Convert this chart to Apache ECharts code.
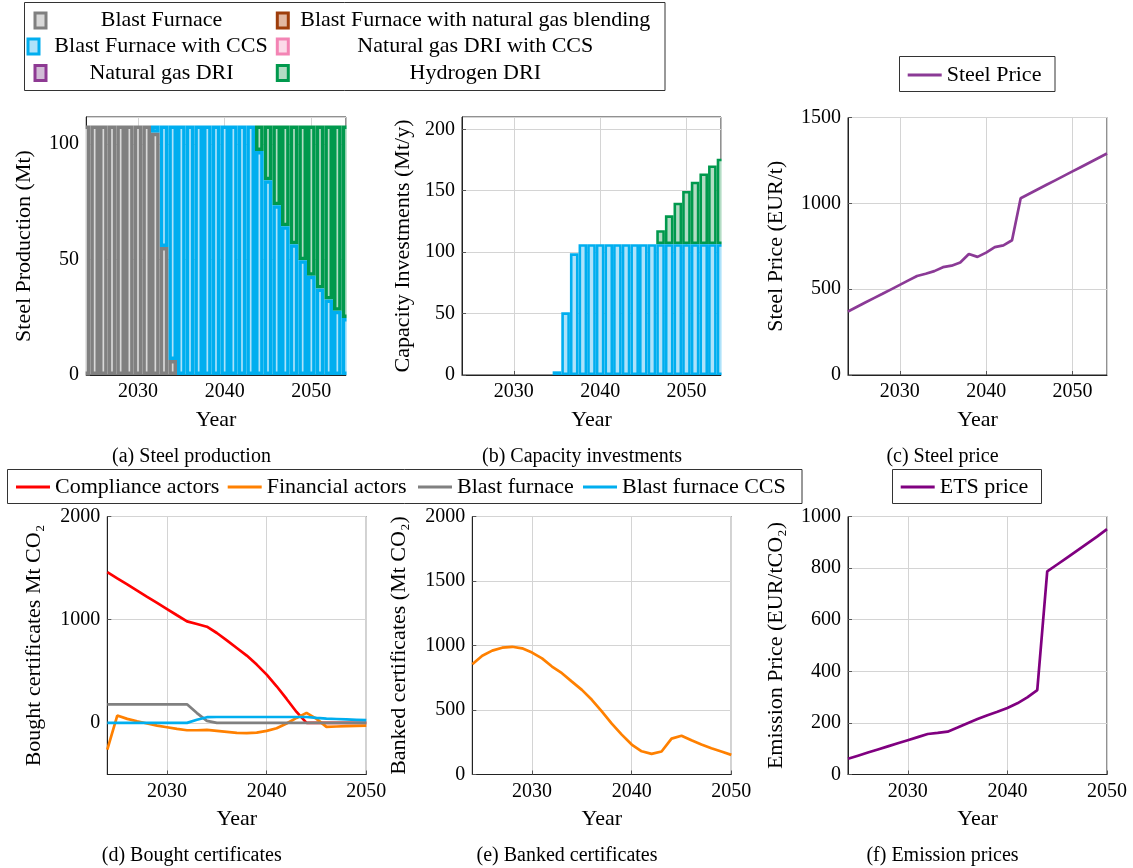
<!DOCTYPE html>
<html><head><meta charset="utf-8">
<script src="https://cdn.jsdelivr.net/npm/echarts@6/dist/echarts.min.js"></script>
<style>html,body{margin:0;padding:0;background:#fff}#c{width:1133px;height:868px}</style>
</head><body><div id="c"></div><script>
// ---------- data ----------
const years = [2024,2025,2026,2027,2028,2029,2030,2031,2032,2033,2034,2035,2036,2037,2038,2039,2040,2041,2042,2043,2044,2045,2046,2047,2048,2049,2050,2051,2052,2053,2054];
const yearsCert = [2024,2025,2026,2027,2028,2029,2030,2031,2032,2033,2034,2035,2036,2037,2038,2039,2040,2041,2042,2043,2044,2045,2046,2047,2048,2049,2050];

const techNames = ['Blast Furnace','Blast Furnace with natural gas blending','Blast Furnace with CCS','Natural gas DRI with CCS','Natural gas DRI','Hydrogen DRI'];

// (a) steel production, Mt
const bfProd      = [108,108,108,108,108,108,108,108,104.9,55.4,6.5,0,0,0,0,0,0,0,0,0,0,0,0,0,0,0,0,0,0,0,0];
const bfngProd    = [0,0,0,0,0,0,0,0,0,0,0,0,0,0,0,0,0,0,0,0,0,0,0,0,0,0,0,0,0,0,0];
const bfccsProd   = [0,0,0,0,0,0,0,0,3.1,52.6,101.5,108,108,108,108,108,108,108,108,108,97,84.3,73.5,64.4,56.6,49.7,43,37.4,32.7,27.8,24.7];
const ngdriccsProd= [0,0,0,0,0,0,0,0,0,0,0,0,0,0,0,0,0,0,0,0,0,0,0,0,0,0,0,0,0,0,0];
const ngdriProd   = [0,0,0,0,0,0,0,0,0,0,0,0,0,0,0,0,0,0,0,0,0,0,0,0,0,0,0,0,0,0,0];
const h2Prod      = [0,0,0,0,0,0,0,0,0,0,0,0,0,0,0,0,0,0,0,0,11,23.7,34.5,43.6,51.4,58.3,65,70.6,75.3,80.2,83.3];

// (b) capacity investments, Mt/y
const bfccsInv = [0,0,0,0,0,0,0,0,0,0,0,3,51,99,106.5,106.5,106.5,106.5,106.5,106.5,106.5,106.5,106.5,106.5,106.5,106.5,106.5,106.5,106.5,106.5,106.5];
const h2Inv    = [0,0,0,0,0,0,0,0,0,0,0,0,0,0,0,0,0,0,0,0,0,0,0,11.4,23.5,33.8,43.3,50.8,57.6,64.1,69.5];

// (c) steel price, EUR/t
const steelPrice = [370,396,422,448,473,499,525,551,577,590,605,628,637,655,705,688,713,745,755,785,1030,1056,1082,1108,1134,1160,1186,1212,1238,1264,1290];

// (d) bought certificates, Mt CO2
const compliance = [1461,1401,1342,1282,1222,1163,1103,1043,984,958,932,871,800,726,652,565,468,355,232,106,0,0,0,0,0,0,0];
const financial  = [-258,71,39,16,-6,-26,-42,-58,-71,-71,-68,-77,-87,-97,-100,-94,-77,-52,-6,48,97,39,-39,-35,-32,-29,-26];
const bfBought   = [180,180,180,180,180,180,180,180,180,95,20,0,0,0,0,0,0,0,0,0,0,0,0,0,0,0,0];
const bfccsBought= [0,0,0,0,0,0,0,0,0,30,55,57,57,57,57,57,57,57,57,57,57,48,42,38,34,30,26];

// (e) banked certificates, Mt CO2
const banked = [855,920,960,983,990,978,945,900,837,785,720,656,579,489,394,309,232,180,160,178,278,301,265,232,203,178,152];

// (f) ETS price, EUR/tCO2
const etsPrice = [61,73,85,97,109,121,133,145,157,161,166,182,199,215,230,243,258,276,299,327,787,814,841,868,895,922,951];

// ---------- styling ----------
const FONT = "Liberation Serif";
const techStyle = {
  'Blast Furnace': {border:'#808080', fill:'#d9d9d9'},
  'Blast Furnace with natural gas blending': {border:'#9e3d0b', fill:'#e2b8a3'},
  'Blast Furnace with CCS': {border:'#00aeef', fill:'#aee2fa'},
  'Natural gas DRI with CCS': {border:'#f384b4', fill:'#fcdbe9'},
  'Natural gas DRI': {border:'#8e3a93', fill:'#d1bcd6'},
  'Hydrogen DRI': {border:'#00994d', fill:'#b3dcc4'}
};

const GW = 259;
const gridDefs = [
  {left:86,    top:117,   width:260, height:258},
  {left:462,   top:117,   width:GW,  height:258},
  {left:848,   top:117.5, width:GW,  height:257.5},
  {left:107.3, top:516.5, width:GW,  height:258},
  {left:472.3, top:516.5, width:GW,  height:258},
  {left:848,   top:516.5, width:GW,  height:258}
].map(g => Object.assign({show:true, borderColor:'#222', borderWidth:1, backgroundColor:'transparent'}, g));

const fmt = v => String(v);
const decade = (i, v) => Number(v) % 10 === 0;
const nameStyle = {fontFamily:FONT, fontSize:22, color:'#000'};
const tickLab = {fontFamily:FONT, fontSize:20, color:'#000', margin:7};
const gridLine = {show:true, lineStyle:{color:'#d4d4d4', width:1}};
const axLine = {show:true, onZero:false, lineStyle:{color:'#222', width:1}};
const axTick = {show:true, inside:true, length:4, lineStyle:{color:'#555'}};

function xCat(i){
  return {
    gridIndex:i, type:'category', data:years.map(String), boundaryGap:false,
    name:'Year', nameLocation:'middle', nameGap:34, nameTextStyle:nameStyle,
    axisLine:axLine,
    axisTick:Object.assign({}, axTick, {interval:decade}),
    axisLabel:Object.assign({}, tickLab, {interval:decade}),
    splitLine:Object.assign({}, gridLine, {interval:decade})
  };
}
function xVal(i, max){
  return {
    gridIndex:i, type:'value', min:2024, max:max, minInterval:10, maxInterval:10,
    name:'Year', nameLocation:'middle', nameGap:34, nameTextStyle:nameStyle,
    axisLine:axLine, axisTick:axTick,
    axisLabel:Object.assign({}, tickLab, {formatter:fmt, showMinLabel:false, showMaxLabel: max===2050}),
    splitLine:gridLine
  };
}
function yAx(i, name, min, max, interval, gap, labExtra, extra){
  const a = {
    gridIndex:i, type:'value', min:min, max:max,
    name:name, nameLocation:'middle', nameGap:gap, nameTextStyle:nameStyle,
    axisLine:axLine, axisTick:axTick,
    axisLabel:Object.assign({}, tickLab, {formatter:fmt, padding:[4,0,0,0]}, labExtra || {}),
    splitLine:gridLine
  };
  if (interval) a.interval = interval;
  return Object.assign(a, extra || {});
}

const pairs = (xs, vs) => xs.map((x, i) => [x, vs[i]]);
const barVals = vs => vs.map(v => v > 0 ? v : '-');

function barSeries(name, vals, gi, stack, bw, z){
  const s = techStyle[name];
  return {
    type:'bar', name:name, xAxisIndex:gi, yAxisIndex:gi, stack:stack,
    barWidth:'100%', z:z, clip:true,
    itemStyle:{color:s.fill, borderColor:s.border, borderWidth:bw},
    emphasis:{disabled:true},
    data: barVals(vals)
  };
}
function lineSeries(name, xs, vals, gi, color){
  return {
    type:'line', name:name, xAxisIndex:gi, yAxisIndex:gi, color:color,
    showSymbol:false, symbol:'none', clip:true, z:5,
    lineStyle:{color:color, width:2.7}, itemStyle:{color:color},
    emphasis:{disabled:true},
    data: pairs(xs, vals)
  };
}

const prodSets = [bfProd, bfngProd, bfccsProd, ngdriccsProd, ngdriProd, h2Prod];
const series = [];
techNames.forEach((n, k) => series.push(barSeries(n, prodSets[k], 0, 'prod', 3.5, 9 - k)));
series.push(barSeries('Blast Furnace with CCS', bfccsInv, 1, 'inv', 2.6, 8));
series.push(barSeries('Hydrogen DRI', h2Inv, 1, 'inv', 2.6, 7));
series.push(lineSeries('Steel Price', years, steelPrice, 2, '#8b3a96'));
series.push(lineSeries('Compliance actors', yearsCert, compliance, 3, '#ff0000'));
series.push(lineSeries('Financial actors', yearsCert, financial, 3, '#ff8000'));
series.push(lineSeries('Blast furnace', yearsCert, bfBought, 3, '#808080'));
series.push(lineSeries('Blast furnace CCS', yearsCert, bfccsBought, 3, '#00aeef'));
series.push(lineSeries('Banked certificates', yearsCert, banked, 4, '#ff8000'));
series.push(lineSeries('ETS price', yearsCert, etsPrice, 5, '#800080'));

// ---------- legends ----------
const baseText = {fontFamily:FONT, fontSize:22, color:'#000', lineHeight:22};
function techLegend(name, left, top, width){
  return {
    data:[name], left:left, top:top, padding:0, selectedMode:false, icon:'rect',
    itemWidth:11, itemHeight:15, itemStyle:{borderWidth:3},
    formatter:'{t|{name}}',
    textStyle:Object.assign({}, baseText, {rich:{t:Object.assign({}, baseText, {width:width, align:'center'})}})
  };
}
function lineLegend(name, left, top){
  return {
    data:[name], left:left, top:top, padding:0, selectedMode:false, icon:'rect',
    itemWidth:34, itemHeight:3, itemStyle:{borderWidth:0},
    textStyle:Object.assign({}, baseText)
  };
}
const legends = [
  techLegend('Blast Furnace', 33.5, 9.5, 221),
  techLegend('Blast Furnace with natural gas blending', 275.8, 9.5, 364),
  techLegend('Blast Furnace with CCS', 26.5, 35.5, 234),
  techLegend('Natural gas DRI with CCS', 275.8, 35.5, 364),
  techLegend('Natural gas DRI', 33.5, 62, 221),
  techLegend('Hydrogen DRI', 275.8, 62, 364),
  lineLegend('Steel Price', 907.7, 64),
  lineLegend('Compliance actors', 16, 476),
  lineLegend('Financial actors', 227.7, 476),
  lineLegend('Blast furnace', 418, 476),
  lineLegend('Blast furnace CCS', 583, 476),
  lineLegend('ETS price', 900.7, 476)
];

// ---------- decorations: legend frames, edge masks and sub-captions ----------
const box = (x, y, w, h) => ({type:'rect', silent:true, z:0, shape:{x:x, y:y, width:w, height:h},
  style:{fill:'#fff', stroke:'#333', lineWidth:1}});
const mask = (x, y, w, h) => ({type:'rect', silent:true, z:100, shape:{x:x, y:y, width:w, height:h},
  style:{fill:'#fff', stroke:null}});
const cap = (t, x, y) => ({type:'text', silent:true, x:x, y:y,
  style:{text:t, fontFamily:FONT, fontSize:20, fill:'#000', textAlign:'center', textVerticalAlign:'middle'}});
const graphic = [
  box(24.5, 2.5, 640.5, 88),
  box(899.5, 56.5, 155.5, 35),
  box(7.5, 469.5, 794.5, 34),
  box(892.5, 469.5, 149, 34),
  mask(79.3, 112, 6.2, 266),
  mask(346.6, 112, 7, 266),
  mask(721.6, 112, 7, 266),
  cap('(a) Steel production', 191.5, 456.5),
  cap('(b) Capacity investments', 582, 456.5),
  cap('(c) Steel price', 942.5, 456.5),
  cap('(d) Bought certificates', 191.7, 855.5),
  cap('(e) Banked certificates', 567, 855.5),
  cap('(f) Emission prices', 942.5, 855.5)
];

const option = {
  animation:false,
  textStyle:{fontFamily:FONT},
  grid:gridDefs,
  xAxis:[xCat(0), xCat(1), xVal(2,2054), xVal(3,2050), xVal(4,2050), xVal(5,2050)],
  yAxis:[
    yAx(0,'Steel Production (Mt)',0,111.7,50,51,{showMaxLabel:false}),
    yAx(1,'Capacity Investments (Mt/y)',0,210,50,48,{showMaxLabel:false}),
    yAx(2,'Steel Price (EUR/t)',0,1500,500,61),
    yAx(3,'Bought certificates Mt CO₂',-500,2000,null,62,{showMinLabel:false},{minInterval:1000,maxInterval:1000}),
    yAx(4,'Banked certificates (Mt CO₂)',0,2000,500,62),
    yAx(5,'Emission Price (EUR/tCO₂)',0,1000,200,61)
  ],
  legend:legends,
  graphic:graphic,
  series:series
};
const chart = echarts.init(document.getElementById('c'), null, {renderer:'canvas'});
chart.setOption(option);
</script></body></html>
